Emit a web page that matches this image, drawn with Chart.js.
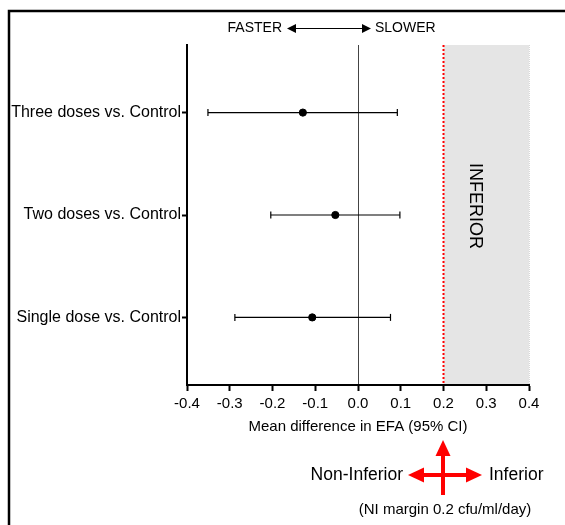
<!DOCTYPE html>
<html>
<head>
<meta charset="utf-8">
<script src="https://cdn.jsdelivr.net/npm/chart.js@4/dist/chart.umd.min.js"></script>
<style>
html,body{margin:0;padding:0;background:#fff;}
#wrap{width:565px;height:525px;position:relative;}
</style>
</head>
<body>
<div id="wrap"><canvas id="c" width="565" height="525"></canvas></div>
<script>
// ---- data ----
const categories = ["Three doses vs. Control", "Two doses vs. Control", "Single dose vs. Control"];
const means = [-0.129, -0.053, -0.107];
const lower = [-0.351, -0.204, -0.288];
const upper = [0.092, 0.098, 0.076];
const xTicks = [-0.4, -0.3, -0.2, -0.1, 0.0, 0.1, 0.2, 0.3, 0.4];
const niMargin = 0.2;

const FONT = "'Liberation Sans', Arial, sans-serif";
const rowY = categories.map((c, i) => categories.length - i);

const datasets = [];
categories.forEach((c, i) => {
  datasets.push({
    type: 'line',
    data: [{x: lower[i], y: rowY[i]}, {x: upper[i], y: rowY[i]}],
    borderColor: '#000',
    borderWidth: 1.2,
    pointStyle: 'line',
    pointRotation: 90,
    pointRadius: 3.5,
    pointBorderWidth: 1.2,
    pointBorderColor: '#000',
    fill: false
  });
});
datasets.push({
  type: 'scatter',
  data: means.map((m, i) => ({x: m, y: rowY[i]})),
  backgroundColor: '#000',
  borderColor: '#000',
  pointRadius: 3.6
});

const deco = {
  id: 'deco',
  beforeDraw(chart) {
    const ctx = chart.ctx;
    const xs = chart.scales.x, a = chart.chartArea;
    ctx.save();
    ctx.fillStyle = '#fff';
    ctx.fillRect(0, 0, chart.width, chart.height);
    // outer frame
    ctx.strokeStyle = '#000';
    ctx.lineWidth = 2.5;
    ctx.strokeRect(9, 11, 700, 700);
    // inferior region
    const x1 = xs.getPixelForValue(niMargin), x2 = xs.getPixelForValue(xTicks[xTicks.length - 1]);
    ctx.fillStyle = '#e5e5e5';
    ctx.fillRect(x1, a.top, x2 - x1, a.bottom - a.top);
    ctx.strokeStyle = '#d8d8d8';
    ctx.lineWidth = 1;
    ctx.setLineDash([1, 1]);
    ctx.beginPath();
    ctx.moveTo(x2 + 0.5, a.top);
    ctx.lineTo(x2 + 0.5, a.bottom);
    ctx.stroke();
    ctx.restore();
  },
  afterDraw(chart) {
    const ctx = chart.ctx;
    const xs = chart.scales.x, a = chart.chartArea;
    ctx.save();
    // red dotted NI margin line
    const xr = xs.getPixelForValue(niMargin);
    ctx.strokeStyle = '#ff0000';
    ctx.lineWidth = 2;
    ctx.setLineDash([2, 2]);
    ctx.beginPath();
    ctx.moveTo(xr, a.top);
    ctx.lineTo(xr, a.bottom - 1);
    ctx.stroke();
    ctx.setLineDash([]);

    // INFERIOR rotated label
    ctx.save();
    ctx.translate(475, (a.top + a.bottom) / 2 - 9);
    ctx.rotate(Math.PI / 2);
    ctx.fillStyle = '#000';
    ctx.font = '18px ' + FONT;
    ctx.textAlign = 'center';
    ctx.textBaseline = 'middle';
    ctx.fillText('INFERIOR', 0, 0);
    ctx.restore();

    // FASTER <--> SLOWER
    ctx.fillStyle = '#000';
    ctx.strokeStyle = '#000';
    ctx.font = '14px ' + FONT;
    ctx.textBaseline = 'middle';
    ctx.textAlign = 'right';
    ctx.fillText('FASTER', 282, 28);
    ctx.textAlign = 'left';
    ctx.fillText('SLOWER', 375, 28);
    ctx.lineWidth = 1;
    ctx.beginPath(); ctx.moveTo(292, 28.5); ctx.lineTo(366, 28.5); ctx.stroke();
    ctx.beginPath(); ctx.moveTo(287, 28.5); ctx.lineTo(296, 24); ctx.lineTo(296, 33); ctx.closePath(); ctx.fill();
    ctx.beginPath(); ctx.moveTo(371, 28.5); ctx.lineTo(362, 24); ctx.lineTo(362, 33); ctx.closePath(); ctx.fill();

    // red cross arrows
    const cx = 443, cy = 475;
    ctx.fillStyle = '#ff0000';
    ctx.strokeStyle = '#ff0000';
    ctx.lineWidth = 4;
    ctx.beginPath(); ctx.moveTo(cx, 452); ctx.lineTo(cx, 495); ctx.stroke();
    ctx.beginPath(); ctx.moveTo(420, cy); ctx.lineTo(470, cy); ctx.stroke();
    ctx.beginPath(); ctx.moveTo(cx, 440); ctx.lineTo(cx - 7.5, 456); ctx.lineTo(cx + 7.5, 456); ctx.closePath(); ctx.fill();
    ctx.beginPath(); ctx.moveTo(408, cy); ctx.lineTo(424, cy - 7.5); ctx.lineTo(424, cy + 7.5); ctx.closePath(); ctx.fill();
    ctx.beginPath(); ctx.moveTo(482, cy); ctx.lineTo(466, cy - 7.5); ctx.lineTo(466, cy + 7.5); ctx.closePath(); ctx.fill();

    ctx.fillStyle = '#000';
    ctx.font = '17.5px ' + FONT;
    ctx.textAlign = 'right';
    ctx.fillText('Non-Inferior', 403, cy);
    ctx.textAlign = 'left';
    ctx.fillText('Inferior', 489, cy);
    ctx.font = '15px ' + FONT;
    ctx.textAlign = 'center';
    ctx.fillText('(NI margin 0.2 cfu/ml/day)', 445, 510);
    ctx.restore();
  }
};

new Chart(document.getElementById('c'), {
  type: 'scatter',
  data: { datasets },
  plugins: [deco],
  options: {
    responsive: false,
    animation: false,
    layout: { padding: { left: 0, right: 36, top: 45, bottom: 88 } },
    plugins: { legend: { display: false }, tooltip: { enabled: false } },
    scales: {
      x: {
        type: 'linear',
        min: xTicks[0],
        max: xTicks[xTicks.length - 1],
        afterBuildTicks: s => { s.ticks = xTicks.map(v => ({value: v})); },
        afterFit: s => { s.height = 52; },
        ticks: {
          color: '#000',
          font: { family: FONT, size: 15 },
          padding: 4,
          maxRotation: 0,
          callback: v => Number(v).toFixed(1)
        },
        grid: {
          drawOnChartArea: true,
          color: c => (c.tick && c.tick.value === 0) ? '#444' : 'rgba(0,0,0,0)',
          lineWidth: 1,
          tickColor: '#000',
          tickLength: 6,
          tickWidth: 2
        },
        border: { display: true, color: '#000', width: 2 },
        title: {
          display: true,
          text: 'Mean difference in EFA (95% CI)',
          color: '#000',
          font: { family: FONT, size: 15 },
          padding: { top: 2, bottom: 1 }
        }
      },
      y: {
        type: 'linear',
        min: 0.34,
        max: 3.66,
        afterBuildTicks: s => { s.ticks = rowY.map(v => ({value: v})); },
        afterFit: s => { s.width = 187; },
        ticks: {
          color: '#000',
          font: { family: FONT, size: 16 },
          padding: 1,
          callback: v => categories[categories.length - v]
        },
        grid: {
          drawOnChartArea: false,
          tickColor: '#000',
          tickLength: 5,
          tickWidth: 2
        },
        border: { display: true, color: '#000', width: 2 }
      }
    }
  }
});
</script>
</body>
</html>
